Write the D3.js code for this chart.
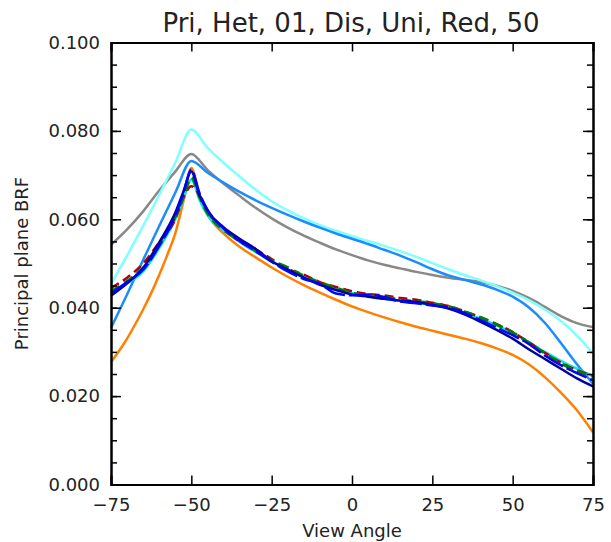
<!DOCTYPE html>
<html>
<head>
    <meta charset="utf-8">
    <title>Pri, Het, 01, Dis, Uni, Red, 50</title>
    <script src="https://d3js.org/d3.v7.min.js"></script>
    <style>
        body { margin: 0; background: #fff; }
        text { font-family: "DejaVu Sans", sans-serif; fill: #222; }
        .line { fill: none; stroke-linejoin: round; }
    </style>
</head>
<body>
    <svg width="611" height="542"></svg>
    <script>
        // view angles for the smooth (model) curves
        var anglesSmooth = [-75, -70, -65, -60, -55, -50, -45, -40, -35, -30, -25, -20, -15, -10, -5, 0,
                            5, 10, 15, 20, 25, 30, 35, 40, 45, 50, 55, 60, 65, 70, 75];
        var lightCyan = [0.0453, 0.0518, 0.0585, 0.0655, 0.0728, 0.0803, 0.0762, 0.0728, 0.0697, 0.0667, 0.0641, 0.0620, 0.0602, 0.0587, 0.0574, 0.0562,
                         0.0551, 0.0540, 0.0528, 0.0515, 0.0501, 0.0487, 0.0474, 0.0462, 0.0449, 0.0434, 0.0417, 0.0396, 0.0370, 0.0337, 0.0296];
        var gray = [0.0542, 0.0577, 0.0618, 0.0665, 0.0708, 0.0748, 0.0712, 0.0681, 0.0653, 0.0626, 0.0602, 0.0581, 0.0563, 0.0547, 0.0532, 0.0519,
                    0.0507, 0.0497, 0.0489, 0.0481, 0.0474, 0.0468, 0.0463, 0.0458, 0.0450, 0.0438, 0.0422, 0.0402, 0.0381, 0.0365, 0.0356];
        var dodger = [0.0354, 0.0430, 0.0508, 0.0585, 0.0660, 0.0732, 0.0706, 0.0683, 0.0662, 0.0643, 0.0626, 0.0610, 0.0595, 0.0581, 0.0568, 0.0556,
                      0.0544, 0.0531, 0.0518, 0.0503, 0.0487, 0.0473, 0.0463, 0.0453, 0.0441, 0.0425, 0.0401, 0.0366, 0.0320, 0.0272, 0.0228];

        var anglesOrange = [-75, -72.5, -70, -67.5, -65, -62.5, -60, -57.5, -55, -52.5, -50, -47.5, -45, -40, -35, -30, -25, -20, -15, -10, -5, 0,
                            5, 10, 15, 20, 25, 30, 35, 40, 45, 50, 55, 60, 65, 70, 75];
        var orange = [0.0277, 0.0302, 0.0330, 0.0362, 0.0396, 0.0433, 0.0474, 0.0519, 0.0568, 0.0640, 0.0716, 0.0655, 0.0612, 0.0568, 0.0538, 0.0514, 0.0491, 0.0470, 0.0451, 0.0434, 0.0418, 0.0403,
                      0.0390, 0.0378, 0.0367, 0.0357, 0.0348, 0.0339, 0.0330, 0.0320, 0.0308, 0.0293, 0.0272, 0.0243, 0.0208, 0.0168, 0.0118];

        // view angles for the noisy (simulated) curves
        var anglesNoisy = [-75, -70, -65, -60, -55, -52.5, -50, -47.5, -45, -40, -35, -30, -25, -20, -15, -10, -5, 0,
                           5, 10, 15, 20, 25, 30, 35, 40, 45, 50, 55, 60, 65, 70, 75];
        var cyanNoisy = [0.0436, 0.0455, 0.0482, 0.0535, 0.0600, 0.0645, 0.0690, 0.0645, 0.0610, 0.0575, 0.0549, 0.0526, 0.0505, 0.0487, 0.0470, 0.0455, 0.0443, 0.0433,
                         0.0426, 0.0420, 0.0415, 0.0411, 0.0406, 0.0399, 0.0389, 0.0375, 0.0360, 0.0343, 0.0322, 0.0300, 0.0280, 0.0262, 0.0245];
        var redNoisy = [0.0445, 0.0468, 0.0500, 0.0548, 0.0600, 0.0648, 0.0675, 0.0655, 0.0618, 0.0580, 0.0550, 0.0532, 0.0510, 0.0488, 0.0475, 0.0458, 0.0447, 0.0437,
                        0.0431, 0.0428, 0.0422, 0.0418, 0.0411, 0.0404, 0.0392, 0.0378, 0.0363, 0.0345, 0.0322, 0.0298, 0.0276, 0.0259, 0.0246];
        var greenNoisy = [0.0437, 0.0460, 0.0490, 0.0542, 0.0606, 0.0650, 0.0695, 0.0652, 0.0614, 0.0576, 0.0553, 0.0529, 0.0507, 0.0491, 0.0472, 0.0457, 0.0445, 0.0433,
                          0.0427, 0.0424, 0.0418, 0.0414, 0.0410, 0.0403, 0.0391, 0.0378, 0.0362, 0.0344, 0.0321, 0.0297, 0.0274, 0.0257, 0.0244];
        var navyNoisy = [0.0427, 0.0455, 0.0490, 0.0548, 0.0615, 0.0662, 0.0708, 0.0655, 0.0620, 0.0582, 0.0556, 0.0533, 0.0505, 0.0486, 0.0468, 0.0452, 0.0440, 0.0430,
                         0.0425, 0.0420, 0.0416, 0.0413, 0.0406, 0.0398, 0.0385, 0.0368, 0.0350, 0.0330, 0.0306, 0.0284, 0.0262, 0.0240, 0.0222];
        var blueNoisy = [0.0432, 0.0458, 0.0486, 0.0540, 0.0608, 0.0658, 0.0712, 0.0660, 0.0622, 0.0580, 0.0551, 0.0528, 0.0504, 0.0482, 0.0465, 0.0454, 0.0432, 0.0428,
                         0.0430, 0.0424, 0.0414, 0.0410, 0.0405, 0.0400, 0.0388, 0.0372, 0.0355, 0.0338, 0.0318, 0.0292, 0.0270, 0.0252, 0.0236];

        var xTicks = [-75, -50, -25, 0, 25, 50, 75];
        var yTicks = [0, 0.02, 0.04, 0.06, 0.08, 0.1];

        var series = [
            {x: anglesSmooth, y: gray, color: "#888888", width: 2.5, dash: null},
            {x: anglesSmooth, y: lightCyan, color: "#80ffff", width: 2.5, dash: null},
            {x: anglesSmooth, y: dodger, color: "#1a8cff", width: 2.5, dash: null},
            {x: anglesOrange, y: orange, color: "#ff8000", width: 2.5, dash: null},
            {x: anglesNoisy, y: cyanNoisy, color: "#00e8e8", width: 2.5, dash: null},
            {x: anglesNoisy, y: redNoisy, color: "#b00000", width: 2.5, dash: "9,5"},
            {x: anglesNoisy, y: greenNoisy, color: "#008000", width: 3, dash: "10,6"},
            {x: anglesNoisy, y: navyNoisy, color: "#0000a0", width: 2.5, dash: null},
            {x: anglesNoisy, y: blueNoisy, color: "#0000ff", width: 2.5, dash: "22,4"}
        ];

        var svg = d3.select("svg"),
            margin = {top: 42.5, right: 18, bottom: 57.5, left: 111},
            width = +svg.attr("width") - margin.left - margin.right,
            height = +svg.attr("height") - margin.top - margin.bottom;

        var x = d3.scaleLinear().domain([-75, 75]).range([0, width]);
        var y = d3.scaleLinear().domain([0, 0.1]).range([height, 0]);

        var g = svg.append("g")
                   .attr("transform", "translate(" + margin.left + "," + margin.top + ")");

        var line = d3.line().curve(d3.curveMonotoneX);

        series.forEach(function(s) {
            g.append("path")
             .attr("class", "line")
             .attr("stroke", s.color)
             .attr("stroke-width", s.width)
             .attr("stroke-dasharray", s.dash)
             .attr("d", line(s.x.map(function(a, i) { return [x(a), y(s.y[i])]; })));
        });

        // frame axes, ticks pointing inward
        var minorY = d3.range(0, 0.1001, 0.005);

        g.append("g")
         .attr("transform", "translate(0," + height + ")")
         .call(d3.axisBottom(x).tickValues(xTicks).tickSize(-9).tickPadding(14).tickFormat(d3.format("d")));

        g.append("g")
         .call(d3.axisTop(x).tickValues(xTicks).tickSize(-9).tickFormat(""));

        g.append("g")
         .call(d3.axisLeft(y).tickValues(minorY).tickSize(-6).tickFormat(""));
        g.append("g")
         .call(d3.axisLeft(y).tickValues(yTicks).tickSize(-10).tickPadding(11).tickFormat(d3.format(".3f")));

        g.append("g")
         .attr("transform", "translate(" + width + ",0)")
         .call(d3.axisRight(y).tickValues(minorY).tickSize(-6).tickFormat(""));
        g.append("g")
         .attr("transform", "translate(" + width + ",0)")
         .call(d3.axisRight(y).tickValues(yTicks).tickSize(-10).tickFormat(""));

        g.selectAll(".domain").attr("stroke", "#000").attr("stroke-width", 2);
        g.selectAll(".tick line").attr("stroke", "#000").attr("stroke-width", 1.5);
        g.selectAll(".tick text").attr("font-size", 18).attr("font-family", "DejaVu Sans").attr("fill", "#222");

        svg.append("text")
           .attr("x", 351)
           .attr("y", 32)
           .attr("text-anchor", "middle")
           .attr("font-size", 26)
           .text("Pri, Het, 01, Dis, Uni, Red, 50");

        svg.append("text")
           .attr("x", margin.left + width / 2)
           .attr("y", 537)
           .attr("text-anchor", "middle")
           .attr("font-size", 18)
           .text("View Angle");

        svg.append("text")
           .attr("transform", "translate(28," + (margin.top + height / 2) + ") rotate(-90)")
           .attr("text-anchor", "middle")
           .attr("font-size", 18)
           .text("Principal plane BRF");
    </script>
</body>
</html>
